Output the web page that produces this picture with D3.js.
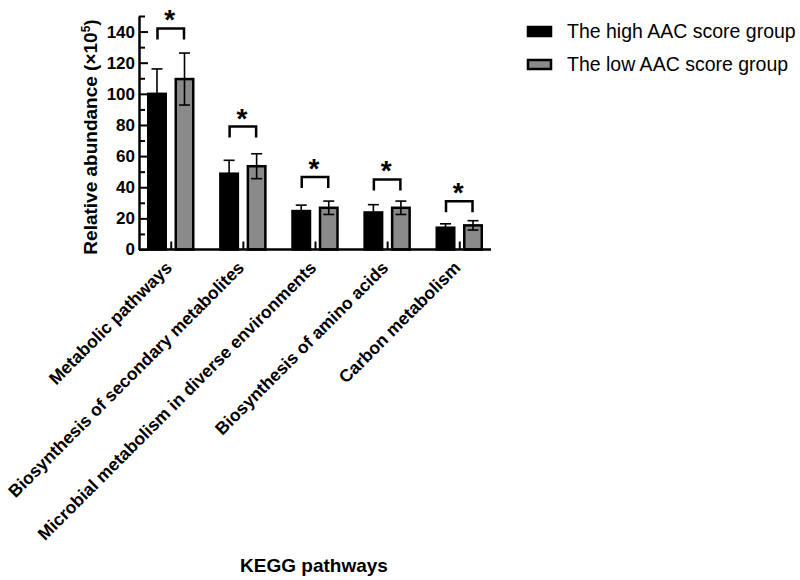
<!DOCTYPE html>
<html>
<head>
<meta charset="utf-8">
<script src="https://cdn.jsdelivr.net/npm/d3@7"></script>
<style>
  body { margin: 0; background: #fff; }
  svg { font-family: "Liberation Sans", Arial, sans-serif; }
</style>
</head>
<body>
<svg id="chart" width="800" height="580"></svg>
<script>
// data (x10^5)
var categories = ["Metabolic pathways", "Biosynthesis of secondary metabolites",
  "Microbial metabolism in diverse environments", "Biosynthesis of amino acids", "Carbon metabolism"];
var groups = ["The high AAC score group", "The low AAC score group"];
var highMean = [100, 48.7, 24.7, 23.8, 14];
var highErr = [16, 8.6, 3.8, 5, 2.5];
var lowMean = [109.5, 53.5, 26.8, 26.8, 15.5];
var lowErr = [16.7, 8, 4.3, 4.3, 3];
var sigLevel = [142, 79, 46.5, 45, 31];
var yTicks = [0, 20, 40, 60, 80, 100, 120, 140];
var yMinor = [10, 30, 50, 70, 90, 110, 130, 150];
var colors = ["#000000", "#8a8a8a"];

var svg = d3.select("#chart");

var x = d3.scalePoint().domain(categories).range([139, 491]).padding(0.44);
var xIn = d3.scaleBand().domain(groups).range([-22.5, 22.5]).paddingInner(0.364);
var y = d3.scaleLinear().domain([0, 150]).range([249.5, 16]);

var rows = categories.map(function(c, i) {
  return [
    {cat: c, g: groups[0], m: highMean[i], e: highErr[i]},
    {cat: c, g: groups[1], m: lowMean[i], e: lowErr[i]}
  ];
});

// bars
var gBars = svg.append("g");
rows.forEach(function(pair) {
  pair.forEach(function(d, j) {
    gBars.append("rect")
      .attr("x", x(d.cat) + xIn(d.g))
      .attr("y", y(d.m))
      .attr("width", xIn.bandwidth())
      .attr("height", y(0) - y(d.m))
      .attr("fill", colors[j])
      .attr("stroke", "#000")
      .attr("stroke-width", 2.5);
    var cx = x(d.cat) + xIn(d.g) + xIn.bandwidth() / 2;
    // error bars
    gBars.append("line")
      .attr("x1", cx).attr("x2", cx)
      .attr("y1", y(d.m - d.e)).attr("y2", y(d.m + d.e))
      .attr("stroke", "#000").attr("stroke-width", 1.6);
    [d.m - d.e, d.m + d.e].forEach(function(v) {
      gBars.append("line")
        .attr("x1", cx - 5.5).attr("x2", cx + 5.5)
        .attr("y1", y(v)).attr("y2", y(v))
        .attr("stroke", "#000").attr("stroke-width", 1.6);
    });
  });
});

// significance brackets
categories.forEach(function(c, i) {
  var xa = x(c) + xIn(groups[0]) + xIn.bandwidth() / 2 + 0.5;
  var xb = x(c) + xIn(groups[1]) + xIn.bandwidth() / 2 - 0.5;
  var yt = y(sigLevel[i]);
  svg.append("path")
    .attr("d", "M" + xa + "," + (yt + 11) + "V" + yt + "H" + xb + "V" + (yt + 11))
    .attr("fill", "none").attr("stroke", "#000").attr("stroke-width", 2.5);
  svg.append("text")
    .attr("x", (xa + xb) / 2 - 1).attr("y", yt + 1)
    .attr("text-anchor", "middle")
    .attr("font-size", 28).attr("font-weight", "bold")
    .text("*");
});

// y axis
var yAxis = svg.append("g").attr("transform", "translate(139,0)")
  .call(d3.axisLeft(y).tickValues(yTicks).tickSizeInner(-9).tickSizeOuter(0).tickPadding(4));
svg.append("g").attr("transform", "translate(139,0)")
  .call(d3.axisLeft(y).tickValues(yMinor).tickSizeInner(-6).tickSizeOuter(0).tickFormat(""))
  .select(".domain").remove();
yAxis.select(".domain").attr("stroke-width", 2.5);
svg.selectAll(".tick line").attr("stroke-width", 2);
yAxis.selectAll("text").attr("font-size", 17).attr("font-weight", "bold")
  .attr("font-family", "Liberation Sans, Arial, sans-serif").attr("fill", "#000");

// x axis
var xAxis = svg.append("g").attr("transform", "translate(0," + y(0) + ")")
  .call(d3.axisBottom(x).tickSizeInner(-8).tickSizeOuter(0).tickFormat(""));
xAxis.select(".domain").attr("d", "M139,0H491").attr("stroke-width", 2.5);
xAxis.selectAll(".tick line").attr("stroke-width", 2);

categories.forEach(function(c) {
  svg.append("text")
    .attr("transform", "translate(" + (x(c) - 2) + "," + (y(0) + 15) + ") rotate(-45)")
    .attr("text-anchor", "end")
    .attr("dy", "0.35em")
    .attr("font-size", 17.5).attr("font-weight", "bold")
    .text(c);
});

// axis titles
var yt = svg.append("text")
  .attr("transform", "translate(97,137) rotate(-90)")
  .attr("text-anchor", "middle")
  .attr("font-size", 19).attr("font-weight", "bold");
yt.append("tspan").text("Relative abundance (\u00d710");
yt.append("tspan").attr("dy", -7).attr("font-size", 12).text("5");
yt.append("tspan").attr("dy", 7).text(")");

svg.append("text")
  .attr("x", 314).attr("y", 572)
  .attr("text-anchor", "middle")
  .attr("font-size", 19).attr("font-weight", "bold")
  .text("KEGG pathways");

// legend
var leg = svg.append("g");
groups.forEach(function(g, i) {
  var ly = 27 + i * 33;
  leg.append("rect")
    .attr("x", 528).attr("y", ly).attr("width", 23).attr("height", 9)
    .attr("fill", colors[i]).attr("stroke", "#000").attr("stroke-width", 2.5);
  leg.append("text")
    .attr("x", 567).attr("y", ly + 11)
    .attr("font-size", 19.5)
    .text(g);
});
</script>
</body>
</html>
